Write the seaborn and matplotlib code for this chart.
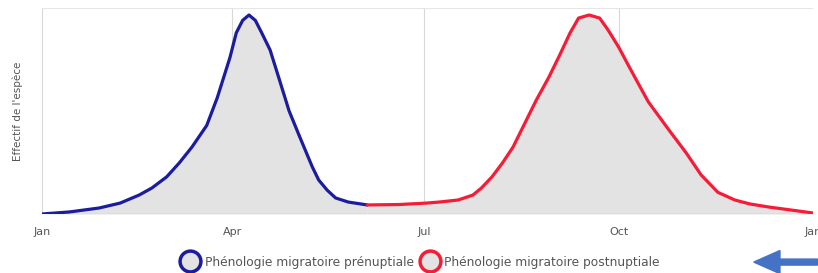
import pandas as pd
import matplotlib
matplotlib.use("Agg")
import matplotlib.pyplot as plt
import seaborn as sns
from matplotlib.lines import Line2D

# pre-nuptial migration (spring)
pre_dates = ["2021-01-01", "2021-01-14", "2021-01-28", "2021-02-07", "2021-02-16",
             "2021-02-22", "2021-03-01", "2021-03-07", "2021-03-13", "2021-03-20",
             "2021-03-25", "2021-03-31", "2021-04-03", "2021-04-06", "2021-04-09",
             "2021-04-12", "2021-04-15", "2021-04-19", "2021-04-23", "2021-04-28",
             "2021-05-03", "2021-05-09", "2021-05-12", "2021-05-16", "2021-05-20",
             "2021-05-26", "2021-06-04"]
pre_vals = [0, 1.0, 2.9, 5.3, 9.2, 12.6, 18.0, 24.8, 32.5, 43.0, 56.5, 76.0, 88.0,
            94.0, 96.6, 94.0, 88.0, 79.6, 66.5, 50.0, 37.5, 22.8, 16.5, 11.6, 7.8,
            5.8, 4.4]

# post-nuptial migration (autumn)
post_dates = ["2021-06-04", "2021-06-19", "2021-07-02", "2021-07-08", "2021-07-17",
              "2021-07-24", "2021-07-28", "2021-08-02", "2021-08-07", "2021-08-12",
              "2021-08-16", "2021-08-23", "2021-08-29", "2021-09-03", "2021-09-08",
              "2021-09-12", "2021-09-17", "2021-09-22", "2021-09-26", "2021-10-01",
              "2021-10-06", "2021-10-11", "2021-10-15", "2021-10-20", "2021-10-25",
              "2021-11-02", "2021-11-09", "2021-11-17", "2021-11-25", "2021-12-02",
              "2021-12-11", "2022-01-01"]
post_vals = [4.4, 4.6, 5.3, 5.8, 6.8, 9.2, 12.6, 18.0, 24.8, 32.5, 40.8, 55.3, 66.5,
             77.0, 87.9, 95.1, 96.6, 95.1, 89.3, 81.0, 71.4, 62.0, 54.5, 47.5, 40.5,
             29.6, 19.0, 10.5, 6.8, 4.9, 3.4, 0.5]

tick_dates = ["2021-01-01", "2021-04-01", "2021-07-01", "2021-10-01", "2022-01-01"]
tick_labels = ["Jan", "Apr", "Jul", "Oct", "Jan"]
legend_labels = ["Phénologie migratoire prénuptiale", "Phénologie migratoire postnuptiale"]

pre = pd.DataFrame({"date": pd.to_datetime(pre_dates), "value": pre_vals})
post = pd.DataFrame({"date": pd.to_datetime(post_dates), "value": post_vals})

sns.set_style("white")
plt.rcParams["font.family"] = ["DejaVu Sans"]

blue = "#1c1c9e"
red = "#f51c38"
fill = "#e3e3e3"
grid = "#d8d8d8"
text_col = "#555555"

fig = plt.figure(figsize=(8.18, 2.73), dpi=100)
ax = fig.add_axes([0.0513, 0.2161, 0.9426, 0.7546])

ax.fill_between(pre["date"], pre["value"], 0, color=fill, lw=0, zorder=1)
ax.fill_between(post["date"], post["value"], 0, color=fill, lw=0, zorder=1)
sns.lineplot(data=pre, x="date", y="value", ax=ax, color=blue, lw=2.3, zorder=3)
sns.lineplot(data=post, x="date", y="value", ax=ax, color=red, lw=2.3, zorder=3)

ax.set_xlim(pd.Timestamp(tick_dates[0]), pd.Timestamp(tick_dates[-1]))
ax.set_ylim(0, 100)
ax.set_xticks(pd.to_datetime(tick_dates))
ax.set_xticklabels(tick_labels, color=text_col, fontsize=8)
ax.set_yticks([0, 100])
ax.set_yticklabels([])
ax.tick_params(axis="both", length=0, pad=9)
for x in pd.to_datetime(tick_dates[:-1]):
    ax.axvline(x, color=grid, lw=0.8, zorder=0)
ax.axhline(100, color="#e6e6e6", lw=0.8, zorder=0)
ax.axhline(0, color="#c8c8c8", lw=1.0, zorder=2)
for s in ax.spines.values():
    s.set_visible(False)

ax.set_xlabel("")
ax.set_ylabel("Effectif de l'espèce", color=text_col, fontsize=7.5)
ax.yaxis.set_label_coords(-0.025, 0.5)

handles = [
    Line2D([], [], marker="o", linestyle="none", markersize=15,
           markerfacecolor=fill, markeredgecolor=blue, markeredgewidth=2.5),
    Line2D([], [], marker="o", linestyle="none", markersize=15,
           markerfacecolor=fill, markeredgecolor=red, markeredgewidth=2.5),
]
fig.legend(handles, legend_labels, loc="center", bbox_to_anchor=(0.512, 0.04),
           ncol=2, frameon=False, fontsize=8.8, labelcolor=text_col,
           handletextpad=0.2, columnspacing=0.3)

# blue arrow at the bottom right
fig.patches.append(matplotlib.patches.FancyArrow(
    0.9995, 0.04, -0.078, 0, width=0.022, head_width=0.085, head_length=0.032,
    length_includes_head=True, color="#4472c4", transform=fig.transFigure, figure=fig))

fig.savefig("out.png", dpi=100)
